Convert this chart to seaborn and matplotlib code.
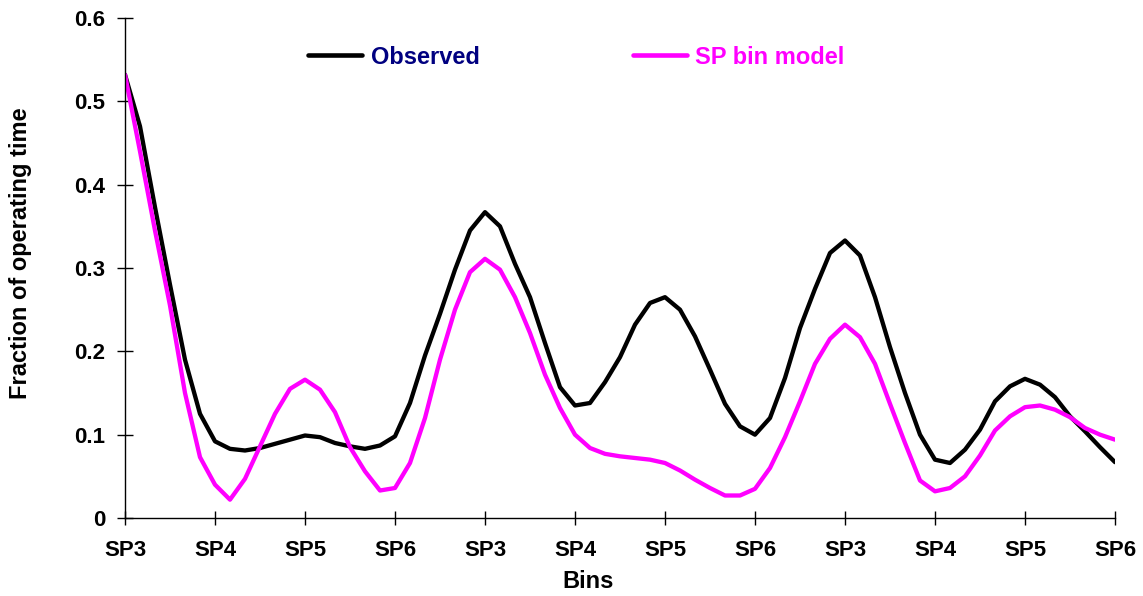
import matplotlib
matplotlib.use("Agg")
import matplotlib.pyplot as plt
import seaborn as sns
import pandas as pd
import numpy as np

# 12 category labels, each split into 6 fine bins
tick_labels = ["SP3", "SP4", "SP5", "SP6"] * 3

observed = [0.532, 0.470, 0.373, 0.280, 0.190, 0.125,
            0.092, 0.083, 0.081, 0.084, 0.089, 0.094,
            0.099, 0.097, 0.090, 0.086, 0.083, 0.087,
            0.098, 0.138, 0.195, 0.245, 0.298, 0.345,
            0.367, 0.350, 0.305, 0.265, 0.210, 0.157,
            0.135, 0.138, 0.163, 0.193, 0.232, 0.258,
            0.265, 0.250, 0.218, 0.178, 0.137, 0.110,
            0.100, 0.120, 0.168, 0.228, 0.275, 0.318,
            0.333, 0.315, 0.265, 0.205, 0.150, 0.100,
            0.070, 0.066, 0.082, 0.106, 0.140, 0.158,
            0.167, 0.160, 0.145, 0.122, 0.104, 0.085,
            0.067]

sp_bin_model = [0.532, 0.440, 0.345, 0.255, 0.150, 0.073,
                0.040, 0.022, 0.047, 0.086, 0.125, 0.155,
                0.166, 0.154, 0.127, 0.085, 0.056, 0.033,
                0.036, 0.066, 0.120, 0.190, 0.250, 0.295,
                0.311, 0.298, 0.265, 0.222, 0.172, 0.132,
                0.100, 0.084, 0.077, 0.074, 0.072, 0.070,
                0.066, 0.057, 0.046, 0.036, 0.027, 0.027,
                0.035, 0.060, 0.097, 0.140, 0.185, 0.215,
                0.232, 0.217, 0.185, 0.137, 0.090, 0.045,
                0.032, 0.036, 0.050, 0.075, 0.105, 0.122,
                0.133, 0.135, 0.130, 0.121, 0.108, 0.100,
                0.094]

bins = np.arange(len(observed))
df = pd.DataFrame({
    "bin": np.concatenate([bins, bins]),
    "value": observed + sp_bin_model,
    "series": ["Observed"] * len(observed) + ["SP bin model"] * len(sp_bin_model),
})

sns.set_style("ticks")
plt.rcParams["font.family"] = ["Liberation Sans", "DejaVu Sans"]
plt.rcParams["font.weight"] = "bold"
plt.rcParams["text.color"] = "black"
plt.rcParams["axes.labelcolor"] = "black"

fig = plt.figure(figsize=(11.43, 5.96), dpi=100)
ax = fig.add_axes([125 / 1143, 1 - 518 / 596, 990 / 1143, 500 / 596])

sns.lineplot(data=df, x="bin", y="value", hue="series",
             palette={"Observed": "black", "SP bin model": "#FF00FF"},
             linewidth=3.1, ax=ax)

ax.set_xlim(0, len(observed) - 1)
ax.set_ylim(0, 0.6)
ax.set_xticks(np.arange(0, len(observed), 6))
ax.set_xticklabels(tick_labels)
ax.set_yticks(np.arange(0, 0.61, 0.1))
ax.set_yticklabels(["0" if v == 0 else f"{v:.1f}" for v in np.arange(0, 0.61, 0.1)])

for s in ["top", "right"]:
    ax.spines[s].set_visible(False)
for s in ["left", "bottom"]:
    ax.spines[s].set_linewidth(1.0)
    ax.spines[s].set_color("black")

ax.tick_params(axis="x", direction="inout", length=10, width=1, pad=11,
               labelsize=16, colors="black")
ax.tick_params(axis="y", direction="inout", length=12, width=1, pad=8,
               labelsize=16, colors="black")
for lab in ax.get_xticklabels() + ax.get_yticklabels():
    lab.set_fontweight("bold")

ax.set_xlabel("Bins", fontsize=17, fontweight="bold", color="black")
ax.set_ylabel("Fraction of operating time", fontsize=17, fontweight="bold", color="black")
ax.xaxis.set_label_coords(0.468, -0.104)
ax.yaxis.set_label_coords(-0.094, 0.53)

handles, labels = ax.get_legend_handles_labels()
leg = ax.legend(handles, labels, ncol=2, frameon=False,
                loc="center left", bbox_to_anchor=(308 / 1143, 1 - 57 / 596),
                bbox_transform=fig.transFigure, borderpad=0, borderaxespad=0,
                handlelength=2.3, handletextpad=0.35, columnspacing=6.5,
                labelcolor=["#000080", "#FF00FF"], prop={"weight": "bold", "size": 17})
for h in leg.get_lines():
    h.set_linewidth(3.3)

fig.savefig("out.png", dpi=100)
